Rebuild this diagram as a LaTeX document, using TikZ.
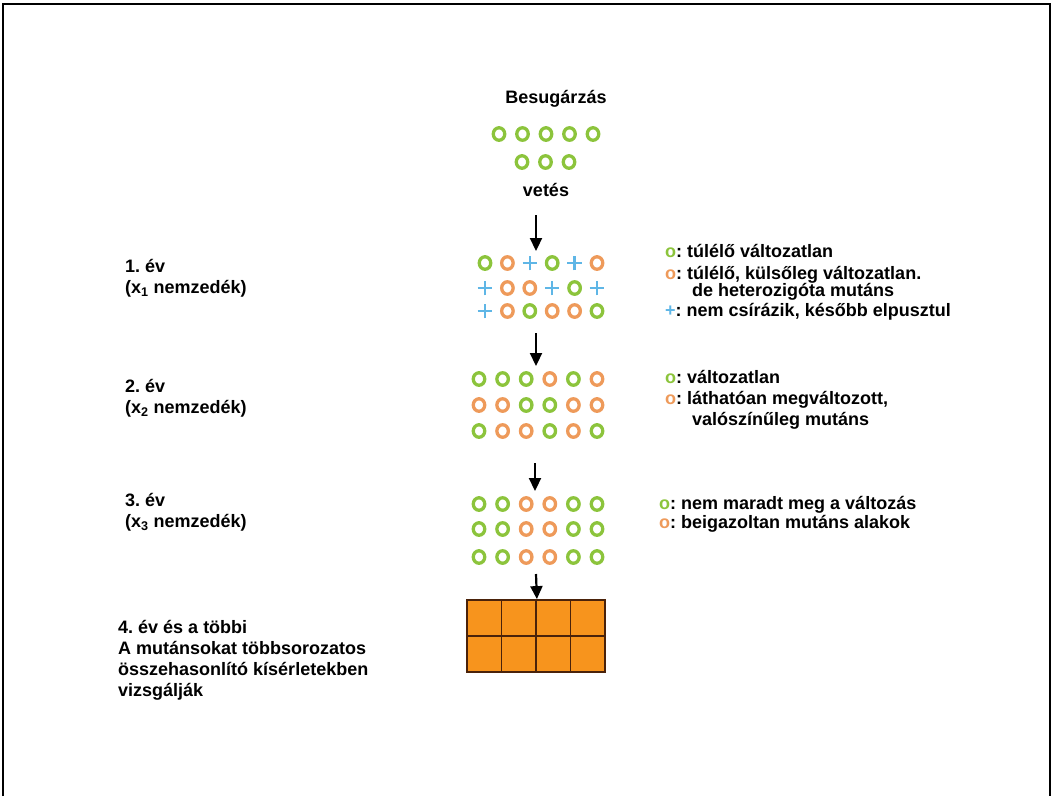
\documentclass[tikz,border=0pt]{standalone}
\usepackage{fontspec}
\setmainfont{Liberation Sans}
\usepackage{xcolor}
\usetikzlibrary{arrows.meta,shapes.geometric,shapes.misc}
\definecolor{mtgreen}{HTML}{8CC43C}
\definecolor{mtorange}{HTML}{EE9A5A}
\definecolor{mtblue}{HTML}{5FB6E6}
\definecolor{mtfill}{HTML}{F7941D}
\definecolor{mtedge}{HTML}{4A220A}
\frenchspacing
\tikzset{
mtring/.style={ellipse,draw,line width=3.3pt,minimum width=11.5pt,minimum height=12.5pt,inner sep=0pt},
mtg/.style={mtring,draw=mtgreen},
mto/.style={mtring,draw=mtorange},
mtp/.style={cross out,draw=mtblue,line width=2.3pt,rotate=45,minimum size=8pt,inner sep=0pt},
mttext/.style={font=\fontsize{18}{21}\selectfont\bfseries,inner sep=0pt,align=left,anchor=north west},
mttitle/.style={font=\fontsize{18}{21}\selectfont\bfseries,inner sep=0pt},
mtarr/.style={-{Triangle[width=12pt,length=13pt]},line width=2.2pt},
mtcell/.style={rectangle,draw=mtedge,fill=mtfill,line width=1.8pt,minimum width=34.5pt,minimum height=36pt,inner sep=0pt}
}
\begin{document}
\begin{tikzpicture}[
x=1pt,
y=-1pt
]
\useasboundingbox (0,0) rectangle (1054,796);
\draw[line width=2.4pt] (3,796) |- (1050,4) -- (1050,796);
\node[mttitle] (besug) at (556,99) {Besugárzás};
\foreach \i in {0,...,4}
  \node[mtg] (seed1-\i) at ({499+23.5*\i},134) {};
\foreach \i in {0,1,2}
  \node[mtg] (seed2-\i) at ({522+23.5*\i},162) {};
\node[mttitle] (vetes) at (546,190) {vetés};
\foreach \yy/\kinds [count=\r] in {263/{mtg,mto,mtp,mtg,mtp,mto},288/{mtp,mto,mto,mtp,mtg,mtp},311/{mtp,mto,mtg,mto,mto,mtg}}
  \foreach \k [count=\c] in \kinds
    \node[\k] (y1-\r-\c) at ({485+22.4*(\c-1)},\yy) {};
\foreach \yy/\kinds [count=\r] in {379/{mtg,mtg,mtg,mto,mtg,mto},405/{mto,mto,mtg,mtg,mto,mto},431/{mtg,mto,mto,mtg,mto,mtg}}
  \foreach \k [count=\c] in \kinds
    \node[\k] (y2-\r-\c) at ({479+23.6*(\c-1)},\yy) {};
\foreach \yy [count=\r] in {504,529,557}
  \foreach \k [count=\c] in {mtg,mtg,mto,mto,mtg,mtg}
    \node[\k] (y3-\r-\c) at ({479+23.6*(\c-1)},\yy) {};
\foreach \yy [count=\r] in {618,654}
  \foreach \c in {1,...,4}
    \node[mtcell] (cell\r\c) at ({467+34.5*\c-17.25},\yy) {};
\node[mttext] (ev1) at (125,259) {1. év\\(x\textsubscript{1} nemzedék)};
\node[mttext] (ev2) at (125,379) {2. év\\(x\textsubscript{2} nemzedék)};
\node[mttext] (ev3) at (125,493) {3. év\\(x\textsubscript{3} nemzedék)};
\node[mttext] (ev4) at (118,620) {4. év és a többi\\A mutánsokat többsorozatos\\összehasonlító kísérletekben\\vizsgálják};
\node[mttext] (leg1a) at (665,244) {{\color{mtgreen}o}: túlélő változatlan};
\node[mttext] (leg1b) at (665,266) {{\color{mtorange}o}: túlélő, külsőleg változatlan.\\[-4pt]\hspace*{27pt}de heterozigóta mutáns};
\node[mttext] (leg1c) at (665,303) {{\color{mtblue}+}: nem csírázik, később elpusztul};
\node[mttext] (leg2a) at (665,370) {{\color{mtgreen}o}: változatlan};
\node[mttext] (leg2b) at (665,391) {{\color{mtorange}o}: láthatóan megváltozott,\\\hspace*{27pt}valószínűleg mutáns};
\node[mttext] (leg3a) at (659,496) {{\color{mtgreen}o}: nem maradt meg a változás};
\node[mttext] (leg3b) at (659,515) {{\color{mtorange}o}: beigazoltan mutáns alakok};
\coordinate (a1s) at (536,215);
\coordinate (a1e) at (536,251);
\coordinate (a2s) at (536,333);
\coordinate (a2e) at (536,366);
\coordinate (a3s) at (535,463);
\coordinate (a3e) at (535,491);
\coordinate (a4s) at (536,574);
\draw[mtarr] (a1s)--(a1e);
\draw[mtarr] (a2s)--(a2e);
\draw[mtarr] (a3s)--(a3e);
\draw[mtarr] (a4s)--(cell12.north east);
\end{tikzpicture}
\end{document}
